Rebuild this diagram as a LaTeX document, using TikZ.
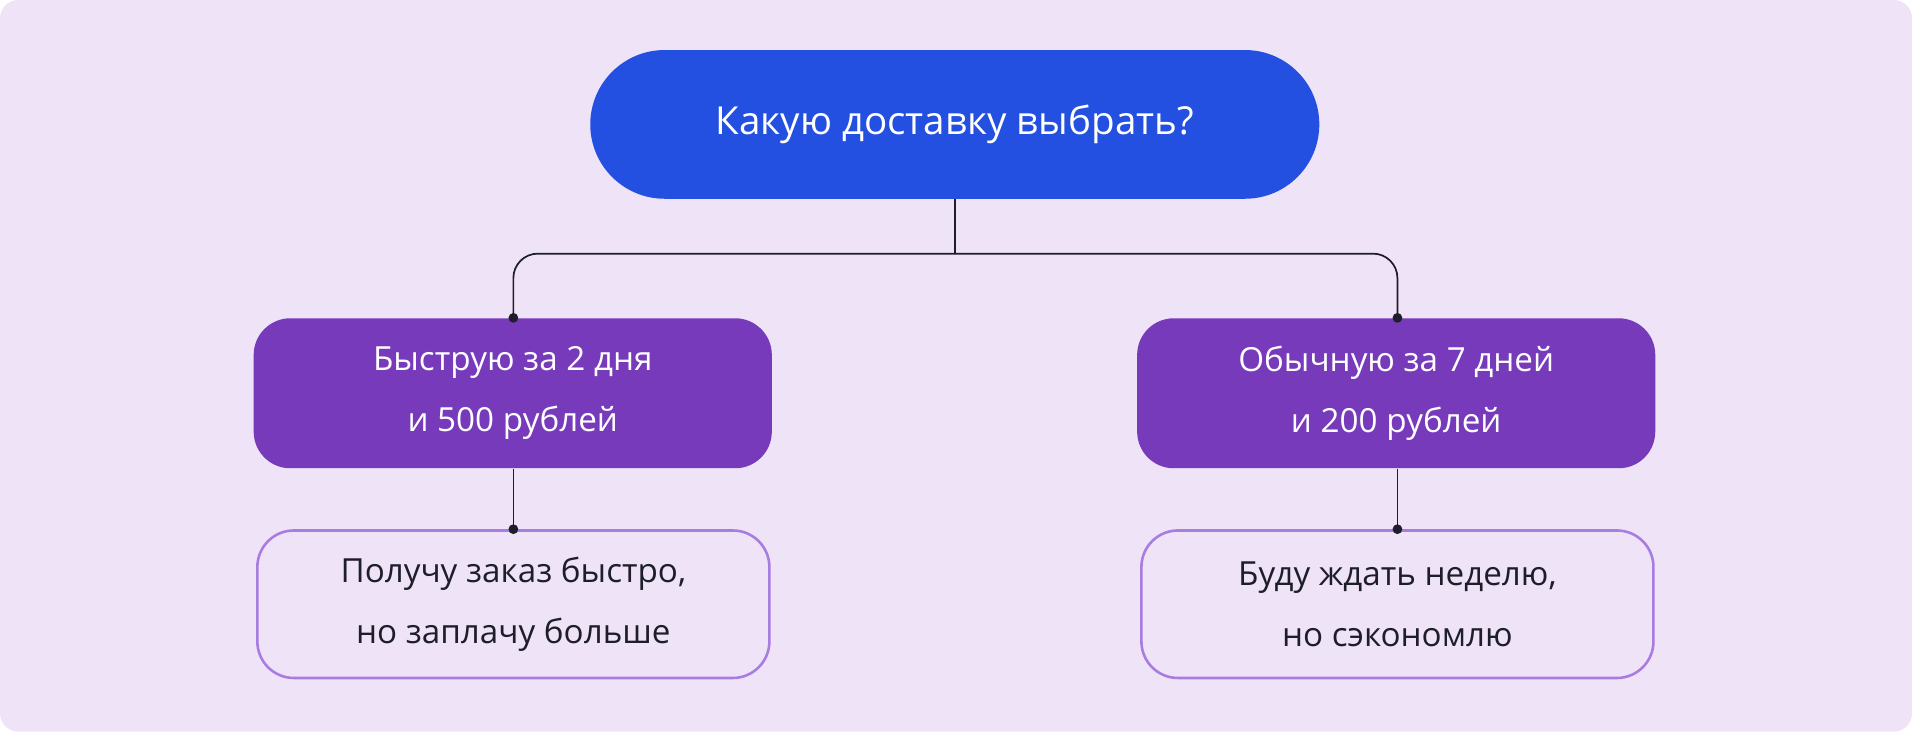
\documentclass[tikz,border=0pt]{standalone}
\usepackage{fontspec}
\setmainfont{Open Sans}
\usetikzlibrary{positioning}
\definecolor{bgcol}{HTML}{EFE3F8}
\definecolor{bluecol}{HTML}{2350E0}
\definecolor{purplecol}{HTML}{763ABB}
\definecolor{linecol}{HTML}{A97CE0}
\definecolor{textcol}{HTML}{1E1E2A}
\tikzset{
  question/.style={fill=bluecol, rounded corners=1.22cm, minimum width=11.96cm,
    minimum height=2.44cm, text=white, font=\fontsize{18}{22}\selectfont},
  choice/.style={fill=purplecol, rounded corners=0.6cm, minimum width=8.5cm,
    minimum height=2.46cm, text=white, align=center, font=\fontsize{15.5}{28.5}\selectfont},
  outcome/.style={draw=linecol, line width=1.2pt, fill=bgcol, rounded corners=0.6cm,
    minimum width=8.4cm, minimum height=2.42cm, text=textcol, align=center,
    font=\fontsize{15.5}{28.5}\selectfont},
  dot/.style={circle, fill=textcol, inner sep=0pt, minimum size=0.16cm}
}
\begin{document}
\begin{tikzpicture}[x=0.02cm, y=-0.02cm]
  \fill[bgcol, rounded corners=0.3cm] (0,0) rectangle (1568,600);
  \useasboundingbox (0,0) rectangle (1568,600);
  % nodes
  \node[question] (q) at (783,102) {Какую доставку выбрать?};
  \node[choice] (fast) at (420.5,322.5) {Быструю за 2 дня\\и 500 рублей};
  \node[choice] (slow) at (1145,322.5) {Обычную за 7 дней\\и 200 рублей};
  \node[outcome] (fastres) at (421,495.5) {Получу заказ быстро,\\но заплачу больше};
  \node[outcome] (slowres) at (1146,495.5) {Буду ждать неделю,\\но сэкономлю};
  % connectors
  \coordinate (split) at (783,208);
  \draw[textcol, line width=0.8pt] (q.south) -- (split);
  \draw[textcol, line width=0.8pt, rounded corners=0.4cm] (split) -| (fast.north -| fastres.north);
  \draw[textcol, line width=0.8pt, rounded corners=0.4cm] (split) -| (slow.north -| slowres.north);
  \draw[textcol, line width=0.8pt] (fast.south -| fastres.north) -- (fastres.north);
  \draw[textcol, line width=0.8pt] (slow.south -| slowres.north) -- (slowres.north);
  \node[dot] at (fast.north -| fastres.north) {};
  \node[dot] at (slow.north -| slowres.north) {};
  \node[dot] at (fastres.north) {};
  \node[dot] at (slowres.north) {};
\end{tikzpicture}
\end{document}
